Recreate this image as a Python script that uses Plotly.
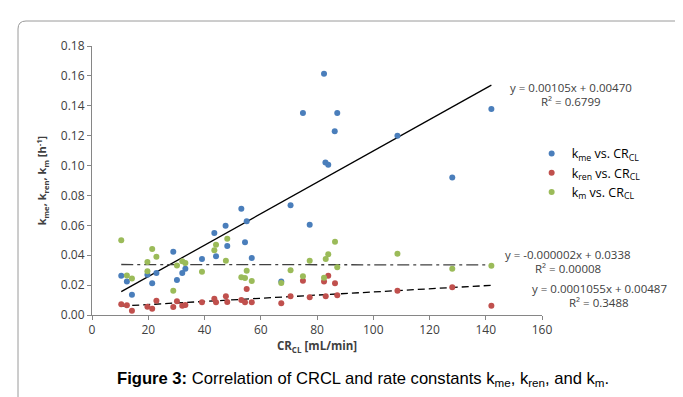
import plotly.graph_objects as go

# ---- data ----
kme_x = [10.4, 12.4, 14.2, 19.7, 21.4, 22.9, 28.9, 30.2, 32.1, 33.2, 39.1, 43.5, 44.1, 47.5, 48.1,
         53.1, 54.4, 55.0, 56.8, 67.3, 70.6, 75.0, 77.4, 82.5, 83.0, 84.0, 86.3, 87.2, 108.6, 128.1, 142.0]
kme_y = [0.0263, 0.0225, 0.0136, 0.0270, 0.0212, 0.0281, 0.0423, 0.0234, 0.0281, 0.0310, 0.0375, 0.0549, 0.0393, 0.0598, 0.0462,
         0.0711, 0.0486, 0.0627, 0.0381, 0.0225, 0.0734, 0.1351, 0.0604, 0.1614, 0.1021, 0.1006, 0.1229, 0.1351, 0.1200, 0.0920, 0.1378]

kren_x = [10.4, 12.4, 14.2, 19.7, 21.4, 22.9, 28.9, 30.2, 32.1, 33.2, 39.1, 43.5, 44.1, 47.6, 48.1,
          53.1, 54.4, 55.0, 56.8, 67.3, 70.6, 75.0, 77.4, 82.5, 83.1, 84.0, 86.4, 87.2, 108.6, 128.1, 142.0]
kren_y = [0.0072, 0.0065, 0.0029, 0.0056, 0.0042, 0.0096, 0.0054, 0.0092, 0.0062, 0.0067, 0.0085, 0.0109, 0.0085, 0.0125, 0.0087,
          0.0100, 0.0085, 0.0174, 0.0085, 0.0078, 0.0125, 0.0230, 0.0118, 0.0225, 0.0125, 0.0263, 0.0212, 0.0132, 0.0163, 0.0185, 0.0062]

km_x = [10.4, 12.4, 14.2, 19.7, 19.7, 21.4, 22.9, 28.9, 30.2, 32.1, 33.2, 39.1, 43.5, 44.1, 47.6, 48.1,
        53.1, 54.4, 55.0, 56.8, 67.3, 70.6, 75.0, 77.4, 82.5, 83.1, 84.0, 86.4, 87.2, 108.6, 128.1, 142.0]
km_y = [0.0500, 0.0265, 0.0245, 0.0355, 0.0292, 0.0442, 0.0390, 0.0163, 0.0332, 0.0359, 0.0348, 0.0290, 0.0433, 0.0470, 0.0363, 0.0510,
        0.0252, 0.0248, 0.0296, 0.0227, 0.0214, 0.0299, 0.0259, 0.0363, 0.0250, 0.0375, 0.0406, 0.0490, 0.0319, 0.0410, 0.0310, 0.0330]

# trend line coefficients (slope, intercept) as printed on the chart
kme_fit = (0.00105, 0.00470)
kren_fit = (0.0001055, 0.00487)
km_fit = (-0.000002, 0.0338)
fit_range = [10.4, 142.0]

x_ticks = [0, 20, 40, 60, 80, 100, 120, 140, 160]
y_ticks = [0.00, 0.02, 0.04, 0.06, 0.08, 0.10, 0.12, 0.14, 0.16, 0.18]

BLUE, RED, GREEN = "#4A7EBB", "#C0504D", "#9BBB59"
TXT = "#404040"
FONT = "Open Sans, Liberation Sans, sans-serif"

fig = go.Figure()

def trend(coef):
    return [coef[0] * x + coef[1] for x in fit_range]

fig.add_trace(go.Scatter(x=fit_range, y=trend(kme_fit), mode="lines",
                         line=dict(color="black", width=1.3), showlegend=False, hoverinfo="skip"))
fig.add_trace(go.Scatter(x=fit_range, y=trend(km_fit), mode="lines",
                         line=dict(color="#404040", width=1.3, dash="12px,4px,3px,4px"), showlegend=False, hoverinfo="skip"))
fig.add_trace(go.Scatter(x=fit_range, y=trend(kren_fit), mode="lines",
                         line=dict(color="black", width=1.3, dash="7px,4px"), showlegend=False, hoverinfo="skip"))

mk = dict(size=6, line=dict(width=0))
fig.add_trace(go.Scatter(x=kme_x, y=kme_y, mode="markers", name="k<sub>me</sub> vs. CR<sub>CL</sub>",
                         marker=dict(color=BLUE, **mk)))
fig.add_trace(go.Scatter(x=kren_x, y=kren_y, mode="markers", name="k<sub>ren</sub> vs. CR<sub>CL</sub>",
                         marker=dict(color=RED, **mk)))
fig.add_trace(go.Scatter(x=km_x, y=km_y, mode="markers", name="k<sub>m</sub> vs. CR<sub>CL</sub>",
                         marker=dict(color=GREEN, **mk)))

ann_font = dict(family=FONT, size=11.5, color=TXT)
annotations = [
    dict(x=1.064, y=(307 - 79) / 269, text="y = 0.00105x + 0.00470"),
    dict(x=1.064, y=(307 - 93) / 269, text="R² = 0.6799"),
    dict(x=1.058, y=(307 - 246) / 269, text="y = -0.000002x + 0.0338"),
    dict(x=1.058, y=(307 - 260) / 269, text="R² = 0.00008"),
    dict(x=1.127, y=(307 - 280) / 269, text="y = 0.0001055x + 0.00487"),
    dict(x=1.127, y=(307 - 294) / 269, text="R² = 0.3488"),
]
for a in annotations:
    a.update(xref="paper", yref="paper", showarrow=False, font=ann_font, xanchor="center", yanchor="middle")

annotations.append(dict(
    xref="paper", yref="paper", x=(107 - 84) / 450, y=(307 - 371) / 269, xanchor="left", yanchor="middle",
    showarrow=False,
    text="<b>Figure 3:</b> Correlation of CRCL and rate constants k<sub>me</sub>, k<sub>ren</sub>, and k<sub>m</sub>.",
    font=dict(family="Liberation Sans, Arial, sans-serif", size=16.6, color="black")))

# rounded frame around chart area
def px(xp):
    return (xp - 84) / 450
def py(yp):
    return (307 - yp) / 269
r = 8
L, R, T, B = 10, 681, 13, 420
path = (f"M {px(L)},{py(B)} L {px(L)},{py(T + r)} Q {px(L)},{py(T)} {px(L + r)},{py(T)} "
        f"L {px(R - r)},{py(T)} Q {px(R)},{py(T)} {px(R)},{py(T + r)} L {px(R)},{py(B)}")

fig.update_layout(
    width=683, height=397,
    margin=dict(l=84, r=149, t=38, b=90),
    paper_bgcolor="white", plot_bgcolor="white",
    font=dict(family=FONT, color=TXT, size=12),
    showlegend=True,
    legend=dict(x=0.977, y=0.655, xanchor="left", yanchor="top", font=dict(family=FONT, size=12.5, color="black"),
                bgcolor="rgba(0,0,0,0)", itemwidth=30, tracegroupgap=0),
    annotations=annotations,
    shapes=[dict(type="path", xref="paper", yref="paper", path=path, line=dict(color="#9a9a9a", width=1))],
    xaxis=dict(range=[0, 160], tickvals=x_ticks, ticktext=[str(v) for v in x_ticks],
               showgrid=False, zeroline=False, showline=True, linecolor="#868686", linewidth=1,
               ticks="outside", ticklen=4, tickcolor="#868686", tickfont=dict(size=12, color=TXT),
               title=dict(text="<b>CR<sub>CL</sub> [mL/min]</b>", font=dict(size=11.5, color=TXT), standoff=4)),
    yaxis=dict(range=[0, 0.18], tickvals=y_ticks, ticktext=[f"{v:.2f}" for v in y_ticks],
               showgrid=False, zeroline=False, showline=True, linecolor="#868686", linewidth=1,
               ticks="outside", ticklen=4, tickcolor="#868686", tickfont=dict(size=12, color=TXT),
               title=dict(text="<b>k<sub>me</sub>, k<sub>ren</sub>, k<sub>m</sub> [h<sup>-1</sup>]</b>",
                          font=dict(size=11, color=TXT), standoff=11)),
)

fig.write_html("out.html")
